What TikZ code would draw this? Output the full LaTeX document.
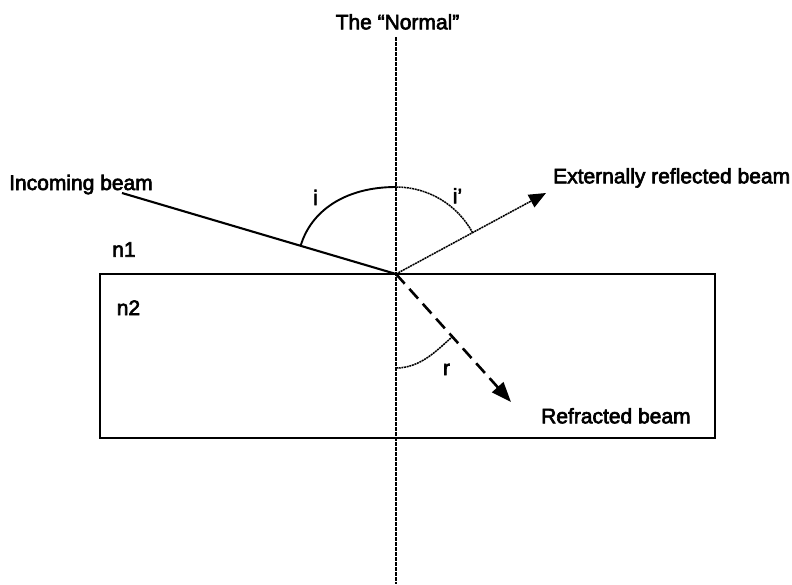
\documentclass[tikz,border=0pt]{standalone}
\usepackage{fontspec}
\setmainfont{Liberation Sans}
\newfontfamily\labelfont{Liberation Sans}[FakeBold=3]
\usepackage{tikz}
\usetikzlibrary{calc,arrows.meta}

\begin{document}
\begin{tikzpicture}[
x=1pt, y=1pt,
lbl/.style={inner sep=0pt, font=\labelfont\fontsize{21}{25}\selectfont},
normalline/.style={line width=1.5pt, dash pattern=on 3.5pt off 1.5pt},
slab/.style={draw, line width=2pt},
inbeam/.style={line width=2.1pt},
reflbeam/.style={line width=1.5pt, dash pattern=on 2pt off 0.7pt, -{Triangle[length=17pt,width=14pt]}},
refrbeam/.style={line width=2.6pt, dash pattern=on 13pt off 7pt, -{Triangle[length=20pt,width=15pt]}},
solidarc/.style={line width=1.9pt},
dotarc/.style={line width=1.5pt, dash pattern=on 2pt off 0.7pt}
]
\fill[white] (0,0) rectangle (792,-584);
\useasboundingbox (0,0) rectangle (792,-584);

\coordinate (O) at (396,-274);
\coordinate (ntop) at (396,-37);
\coordinate (nbot) at (396,-584);
\coordinate (inc) at (122,-193);
\coordinate (refl) at (546,-193);
\coordinate (refr) at (511,-402);

\draw[slab] (100,-274) rectangle (715,-437.7);
\draw[normalline] (ntop) -- (nbot);

\draw[inbeam] (inc) -- (O);
\draw[reflbeam] (O) -- (refl);
\draw[refrbeam] (O) -- (refr);

\coordinate (ia) at ($(O)!0.348!(inc)$);
\coordinate (itop) at (396,-187);
\coordinate (rn) at (396,-368);
\coordinate (rb) at ($(O)!0.49!(refr)$);
\draw[solidarc] (ia) .. controls +(10,34) and +(-52,0) .. (itop);
\draw[dotarc] (itop) arc[start angle=90, end angle=28.4, radius=87];
\draw[dotarc] (rn) .. controls +(25,0) and +(-15,-13) .. (rb);

\node[lbl, anchor=base] (normaltxt) at (397.5,-29.3) {The “Normal”};
\node[lbl, anchor=base west] (incomingtxt) at (9,-190) {Incoming beam};
\node[lbl, anchor=base west] (refltxt) at (553,-183.3) {Externally reflected beam};
\node[lbl, anchor=base west] (refrtxt) at (541,-423.3) {Refracted beam};
\node[lbl, anchor=base] (none) at (124,-256.7) {n1};
\node[lbl, anchor=base] (ntwo) at (128.5,-315) {n2};
\node[lbl, anchor=base] (ilbl) at (315.5,-205) {i};
\node[lbl, anchor=base] (iplbl) at (457.5,-203.3) {i’};
\node[lbl, anchor=base] (rlbl) at (446.5,-375) {r};
\end{tikzpicture}
\end{document}
